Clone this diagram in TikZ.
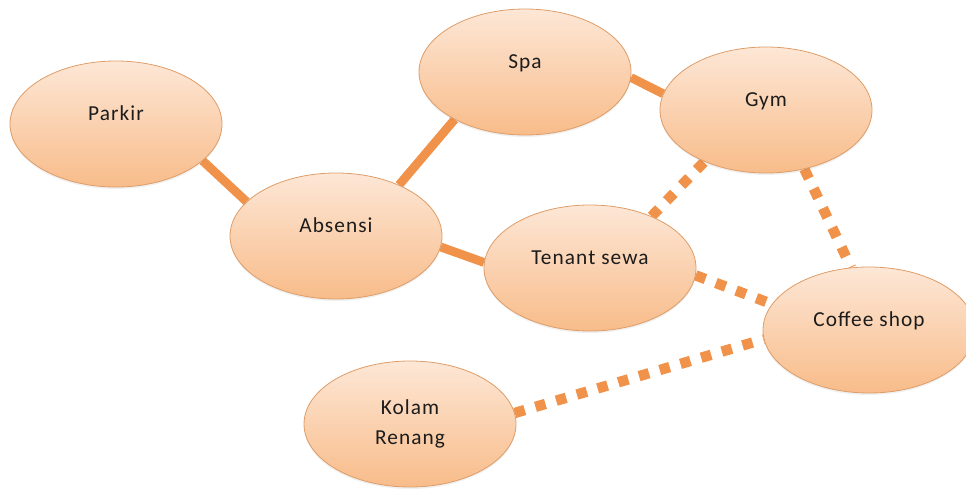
\documentclass[tikz,border=0pt]{standalone}
\usepackage{fontspec}
\setmainfont{Carlito}[LetterSpace=5]
\usepackage{tikz}
\usetikzlibrary{shapes.geometric}
\usetikzlibrary{backgrounds}
\usetikzlibrary{shadows}

\definecolor{peachtop}{HTML}{FDE7D6}
\definecolor{peachbot}{HTML}{F8BC8A}
\definecolor{peachedge}{HTML}{DE9D68}
\definecolor{linkorange}{HTML}{F0924A}
\definecolor{textdark}{HTML}{1C1C1C}

\tikzset{
    blob/.style={ellipse, draw=peachedge, line width=0.6pt,
        top color=peachtop, bottom color=peachbot,
        minimum width=159pt, minimum height=94.5pt, inner sep=0pt,
        text height=10.5pt, text depth=16pt, text=textdark,
        font=\fontsize{16}{22.5}\selectfont,
        drop shadow={opacity=0.12, shadow xshift=0pt, shadow yshift=-1.5pt}},
    twoline/.style={text height=, text depth=, align=center},
    solidlink/.style={draw=linkorange, line width=6.6pt},
    dotlink/.style={draw=linkorange, line width=7.8pt, dash pattern=on 7.8pt off 8.4pt}
}

\begin{document}
\begin{tikzpicture}[x=0.75pt, y=-0.75pt]
                \useasboundingbox (0, 0) rectangle (966, 492);

                \node[blob] (parkir) at (116, 124) {Parkir};
                \node[blob] (spa)    at (525, 72)  {Spa};
                \node[blob] (gym)    at (766, 110) {Gym};
                \node[blob] (absensi) at (336, 236) {Absensi};
                \node[blob] (tenant) at (590, 268) {Tenant sewa};
                \node[blob] (coffee) at (869, 330) {Coffee shop};
                \node[blob, twoline] (kolam) at (410, 424) {Kolam\\Renang};

                \begin{pgfonlayer}{background}
                \draw[solidlink] (parkir.337) -- (absensi.159);
                \draw[solidlink] (absensi.39) -- (spa.214);
                \draw[solidlink] (spa.357) -- (gym.171);
                \draw[solidlink] (absensi.354) -- (tenant.177);

                \draw[dotlink] (tenant.40) -- (gym.220);
                \draw[dotlink] (gym.303) -- (coffee.106);
                \draw[dotlink] (tenant.356) -- (coffee.165);
                \draw[dotlink] (kolam.6) -- (coffee.185);
                \end{pgfonlayer}
            \end{tikzpicture}
\end{document}
